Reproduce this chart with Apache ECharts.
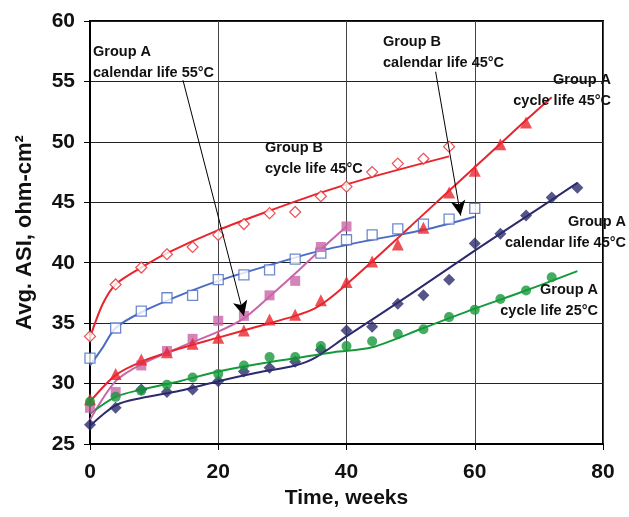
<!DOCTYPE html>
<html>
<head>
<meta charset="utf-8">
<script src="https://cdn.jsdelivr.net/npm/echarts@6/dist/echarts.min.js"></script>
<style>
  html, body { margin: 0; padding: 0; background: #fff; }
  #chart { width: 629px; height: 517px; }
</style>
</head>
<body>
<div id="chart"></div>
<script>
// Measurement weeks (every 4 weeks)
const weeks = [0, 4, 8, 12, 16, 20, 24, 28, 32, 36, 40, 44, 48, 52, 56, 60, 64, 68, 72, 76];

// Measured ASI values, ohm-cm2
const bCycle45 = [33.9, 38.2, 39.6, 40.7, 41.3, 42.3, 43.2, 44.1, 44.2, 45.5, 46.3, 47.5, 48.2, 48.6, 49.6];
const bCal45 = [32.1, 34.6, 36.0, 37.1, 37.3, 38.6, 39.0, 39.4, 40.3, 40.8, 41.9, 42.3, 42.8, 43.2, 43.6, 44.5];
const aCal55 = [28.0, 29.3, 31.5, 32.7, 33.7, 35.2, 35.6, 37.3, 38.5, 41.3, 43.0];
const aCycle45 = [28.7, 30.8, 32.0, 32.6, 33.3, 33.8, 34.4, 35.3, 35.7, 36.9, 38.4, 40.1, 41.5, 42.9, 45.8, 47.6, 49.8, 51.6];
const aCal45 = [26.6, 28.0, 29.5, 29.3, 29.5, 30.2, 31.0, 31.3, 31.8, 32.8, 34.4, 34.7, 36.6, 37.3, 38.6, 41.6, 42.4, 43.9, 45.4, 46.2];
const aCycle25 = [28.5, 28.9, 29.4, 29.9, 30.5, 30.8, 31.5, 32.2, 32.2, 33.1, 33.1, 33.5, 34.1, 34.5, 35.5, 36.1, 37.0, 37.7, 38.8];

// Fitted trend curves
const fitBCycle45W = [0, 2, 4, 8, 12, 20, 28, 36, 44, 56];
const fitBCycle45V = [33.8, 36.6, 38.2, 39.6, 40.8, 42.7, 44.3, 45.8, 47.1, 48.8];
const fitBCal45W = [0, 2, 4, 8, 14, 20, 28, 36, 44, 52, 60];
const fitBCal45V = [31.5, 33.0, 34.6, 35.9, 37.3, 38.5, 39.8, 41.0, 41.9, 42.7, 43.8];
const fitACal55W = [0, 4, 8, 14, 20, 24, 28, 32, 36, 40];
const fitACal55V = [27.0, 30.2, 31.6, 33.0, 34.3, 35.4, 37.2, 39.1, 41.1, 43.0];
const fitACycle45W = [0, 4, 8, 14, 20, 26, 32, 35, 38, 44, 52, 60, 68, 72];
const fitACycle45V = [28.5, 30.7, 31.8, 32.9, 33.8, 34.7, 35.6, 36.2, 37.3, 40.1, 44.0, 47.9, 51.8, 53.7];
const fitACal45W = [0, 4, 8, 14, 20, 26, 32, 35, 40, 50, 60, 70, 76];
const fitACal45V = [26.5, 28.2, 28.8, 29.4, 30.2, 30.9, 31.5, 32.1, 33.9, 37.4, 41.0, 44.5, 46.6];
const fitACycle25W = [0, 4, 8, 14, 20, 26, 32, 38, 44, 52, 60, 68, 76];
const fitACycle25V = [27.5, 28.9, 29.5, 30.2, 31.0, 31.6, 32.1, 32.6, 33.0, 34.6, 36.2, 37.7, 39.3];

// Axis ticks
const xTicks = { min: 0, max: 80, step: 20 };
const yTicks = { min: 25, max: 60, step: 5 };

const RED = '#e8252d';
const BLUE = '#4a6cc2';
const PINK = '#c965a8';
const NAVY = '#2c2a6c';
const GREEN = '#16993b';
const FONT = '"Liberation Sans", Arial, sans-serif';

function pairs(xs, ys) {
  return ys.map((v, i) => [xs[i], v]);
}

function fitLine(name, xs, ys, color) {
  return {
    name: name + ' fit',
    type: 'line',
    data: pairs(xs, ys),
    smooth: 0.3,
    showSymbol: false,
    symbol: 'none',
    silent: true,
    lineStyle: { color: color, width: 2 },
    z: 2
  };
}

function points(name, ys, symbol, size, style) {
  return {
    name: name,
    type: 'scatter',
    data: pairs(weeks, ys),
    symbol: symbol,
    symbolSize: size,
    itemStyle: style,
    z: 3
  };
}

// Callout pointer: thin black line ending in a filled arrowhead
function arrow(from, to) {
  return {
    silent: true,
    symbol: ['none', 'arrow'],
    symbolSize: [11, 15],
    symbolKeepAspect: true,
    label: { show: false },
    itemStyle: { color: '#000' },
    lineStyle: { color: '#000', width: 1, type: 'solid' },
    emphasis: { disabled: true },
    z: 8,
    data: [[{ coord: from }, { coord: to }]]
  };
}

const labelFont = 'bold 14.5px ' + FONT;
function note(lines, x, y, align) {
  return lines.map((t, i) => ({
    type: 'text',
    x: x,
    y: y + i * 21,
    z: 10,
    style: {
      text: t,
      font: labelFont,
      fill: '#111',
      align: align,
      verticalAlign: 'middle'
    }
  }));
}

const chart = echarts.init(document.getElementById('chart'), null, { renderer: 'canvas' });
chart.setOption({
  backgroundColor: '#fff',
  animation: false,
  grid: {
    left: 90, right: 26, top: 21, bottom: 73,
    show: true, borderColor: '#000', borderWidth: 2, backgroundColor: 'transparent'
  },
  xAxis: {
    type: 'value',
    min: xTicks.min, max: xTicks.max, interval: xTicks.step,
    name: 'Time, weeks',
    nameLocation: 'middle',
    nameGap: 43,
    nameTextStyle: { fontSize: 21, fontWeight: 'bold', color: '#111', fontFamily: FONT },
    axisLine: { lineStyle: { color: '#000', width: 2 } },
    axisTick: { inside: false, length: 6, lineStyle: { color: '#000', width: 1 } },
    axisLabel: { margin: 18, fontSize: 21, fontWeight: 'bold', color: '#111', fontFamily: FONT },
    splitLine: { show: true, lineStyle: { color: '#444', width: 1 } }
  },
  yAxis: {
    type: 'value',
    min: yTicks.min, max: yTicks.max, interval: yTicks.step,
    name: 'Avg. ASI, ohm-cm²',
    nameLocation: 'middle',
    nameGap: 54,
    nameTextStyle: { fontSize: 22, fontWeight: 'bold', color: '#111', fontFamily: FONT },
    axisLine: { lineStyle: { color: '#000', width: 2 } },
    axisTick: { inside: false, length: 6, lineStyle: { color: '#000', width: 1 } },
    axisLabel: { margin: 15, fontSize: 21, fontWeight: 'bold', color: '#111', fontFamily: FONT },
    splitLine: { show: true, lineStyle: { color: '#222', width: 1 } }
  },
  series: [
    fitLine('Group B cycle life 45°C', fitBCycle45W, fitBCycle45V, RED),
    fitLine('Group B calendar life 45°C', fitBCal45W, fitBCal45V, BLUE),
    fitLine('Group A calendar life 55°C', fitACal55W, fitACal55V, PINK),
    fitLine('Group A cycle life 45°C', fitACycle45W, fitACycle45V, RED),
    fitLine('Group A calendar life 45°C', fitACal45W, fitACal45V, NAVY),
    fitLine('Group A cycle life 25°C', fitACycle25W, fitACycle25V, GREEN),
    points('Group B cycle life 45°C', bCycle45, 'diamond', 11, { color: '#fff', borderColor: RED, borderWidth: 1.2 }),
    Object.assign(points('Group B calendar life 45°C', bCal45, 'rect', 10, { color: '#fff', borderColor: BLUE, borderWidth: 1.3 }), {
      markLine: arrow([53.9, 55.8], [57.8, 43.9])
    }),
    Object.assign(points('Group A calendar life 55°C', aCal55, 'rect', 10, { color: PINK }), {
      markLine: arrow([14.5, 55.1], [24.0, 35.6])
    }),
    points('Group A cycle life 45°C', aCycle45, 'triangle', 12, { color: RED }),
    points('Group A calendar life 45°C', aCal45, 'diamond', 12, { color: NAVY }),
    points('Group A cycle life 25°C', aCycle25, 'circle', 10, { color: GREEN })
  ],
  graphic: [].concat(
    note(['Group A', 'calendar life 55°C'], 93, 52, 'left'),
    note(['Group B', 'cycle life 45°C'], 265, 148, 'left'),
    note(['Group B', 'calendar life 45°C'], 383, 42, 'left'),
    note(['Group A', 'cycle life 45°C'], 611, 80, 'right'),
    note(['Group A', 'calendar life 45°C'], 626, 222, 'right'),
    note(['Group A', 'cycle life 25°C'], 598, 290, 'right')
  )
});
</script>
</body>
</html>
